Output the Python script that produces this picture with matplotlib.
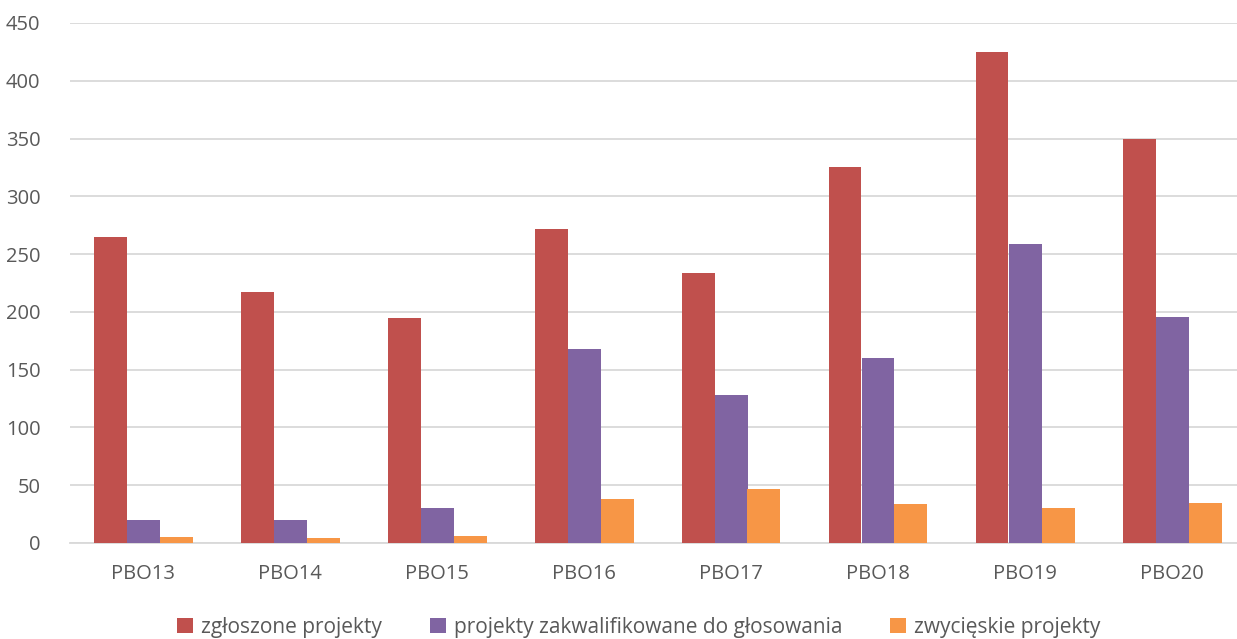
import matplotlib
matplotlib.use("Agg")
import matplotlib.pyplot as plt
import numpy as np

categories = ["PBO13", "PBO14", "PBO15", "PBO16", "PBO17", "PBO18", "PBO19", "PBO20"]
zgloszone = [265, 217, 195, 272, 234, 325, 425, 350]
zakwalifikowane = [20, 20, 30, 168, 128, 160, 259, 196]
zwycieskie = [5, 4, 6, 38, 47, 34, 30, 35]
series_names = ["zgłoszone projekty", "projekty zakwalifikowane do głosowania", "zwycięskie projekty"]
yticks = [0, 50, 100, 150, 200, 250, 300, 350, 400, 450]

plt.rcParams['font.family'] = ['Open Sans', 'DejaVu Sans']
W, H = 1237, 639
fig = plt.figure(figsize=(W/100, H/100), dpi=100)
left, right = 69.5, 1245.5
top, bottom = 23, 543
ax = fig.add_axes([left/W, 1 - bottom/H, (right-left)/W, (bottom-top)/H])

x = np.arange(len(categories))
bw = 33/147
colors = ["#C0504D", "#8064A2", "#F79646"]
for i, (vals, c, n) in enumerate(zip([zgloszone, zakwalifikowane, zwycieskie], colors, series_names)):
    ax.bar(x + (i-1)*bw, vals, bw, color=c, label=n, zorder=3)

ax.set_xlim(-0.5, 7.5)
ax.set_ylim(0, 450)
ax.set_yticks(yticks)
ax.set_xticks(x)
ax.set_xticklabels(categories)
ax.grid(axis='y', color='#D9D9D9', linewidth=1.3, zorder=0)
for s in ['top', 'right', 'left']:
    ax.spines[s].set_visible(False)
ax.spines['bottom'].set_color('#D9D9D9')
ax.spines['bottom'].set_linewidth(1.3)
ax.tick_params(axis='both', length=0, labelsize=14.5, labelcolor='#595959')
ax.tick_params(axis='x', pad=15)
ax.tick_params(axis='y', pad=21)
for lbl in ax.get_yticklabels():
    lbl.set_horizontalalignment('right')

leg = fig.legend(loc='center', bbox_to_anchor=(639/W, 1 - 627/H), ncol=3, frameon=False,
                 fontsize=15, handlelength=0.75, handleheight=0.75, columnspacing=2.3,
                 handletextpad=0.4)
for t in leg.get_texts():
    t.set_color('#595959')

fig.savefig("out.png", dpi=100)
